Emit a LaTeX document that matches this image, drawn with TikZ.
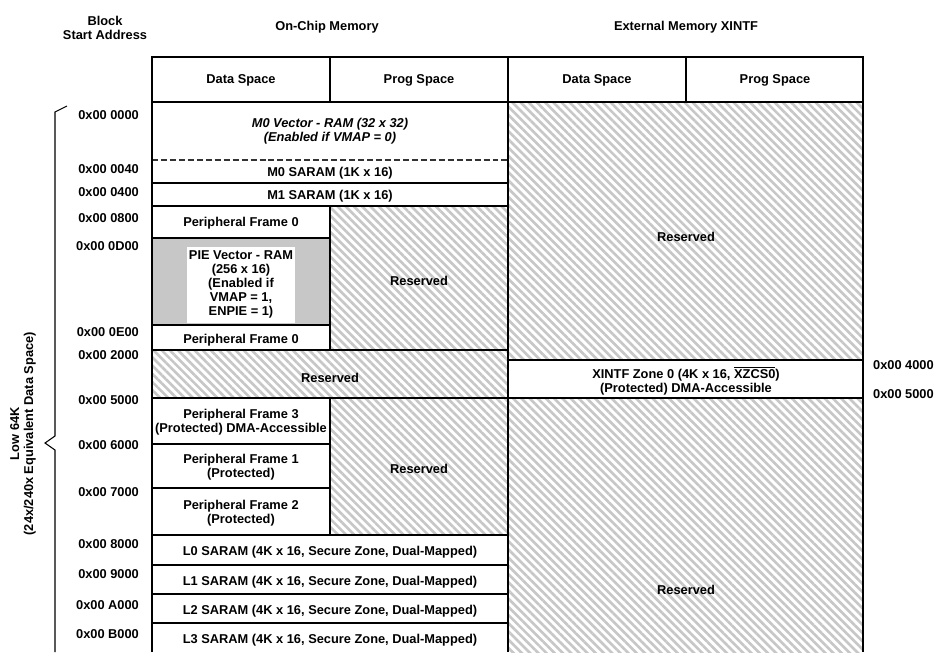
\documentclass[tikz,border=0pt]{standalone}
\usepackage{fontspec}
\setmainfont{Liberation Sans}
\usetikzlibrary{patterns.meta}

\tikzset{
  lbl/.style={font=\fontsize{7.3}{8}\selectfont\bfseries, align=center, inner sep=1pt, yshift=-1pt},
  addrlbl/.style={lbl, anchor=east},
  hatch/.style={pattern={Lines[angle=-45,distance=3.3pt,line width=1.5pt]}, pattern color=black!22},
  cellln/.style={line width=0.6pt},
}

\begin{document}
\begin{tikzpicture}[x=0.02cm,y=-0.02cm]
\useasboundingbox (0,0) rectangle (939,656);

% Titles
\node[lbl] (blkaddr) at (105,26) {Block\\Start Address};
\node[lbl] (onchip) at (327,25) {On-Chip Memory};
\node[lbl] (extmem) at (686,25) {External Memory XINTF};

% Reserved (hatched) regions
\fill[hatch] (330,206) rectangle (508,350);
\fill[hatch] (152,350) rectangle (508,398);
\fill[hatch] (330,398) rectangle (508,535);
\fill[hatch] (508,102) rectangle (863,360);
\fill[hatch] (508,398) rectangle (863,652);

% PIE vector block (grey)
\fill[black!22] (152,238) rectangle (330,325);

% Header row
\draw[cellln] (152,102) -- (863,102);
\foreach \x in {330,508,686} {
  \draw[cellln] (\x,57) -- (\x,102);
}
\foreach \x/\lab in {241/Data Space, 419/Prog Space, 597/Data Space, 775/Prog Space} {
  \node[lbl] (hd\x) at (\x,79) {\lab};
}

% On-chip rows
\draw[cellln, black!80, dash pattern=on 3.4pt off 1.7pt] (152,160) -- (508,160);
\draw[cellln] (152,183) -- (508,183);
\draw[cellln] (152,206) -- (508,206);
\draw[cellln] (152,238) -- (330,238);
\draw[cellln] (152,325) -- (330,325);
\draw[cellln] (152,350) -- (508,350);
\draw[cellln] (152,398) -- (863,398);
\draw[cellln] (152,444) -- (330,444);
\draw[cellln] (152,488) -- (330,488);
\draw[cellln] (152,535) -- (508,535);
\draw[cellln] (152,565) -- (508,565);
\draw[cellln] (152,594) -- (508,594);
\draw[cellln] (152,623) -- (508,623);
\draw[cellln] (330,206) -- (330,350);
\draw[cellln] (330,398) -- (330,535);
\draw[cellln] (508,102) -- (508,652);

% External rows
\draw[cellln] (508,360) -- (863,360);

% Outer frame
\draw[line width=1.2pt] (152,652) -- (152,57) -- (863,57) -- (863,652);

% Cell texts
\node[lbl, font=\fontsize{7.3}{8}\selectfont\bfseries\itshape] (m0vec) at (330,129) {M0 Vector - RAM (32 x 32)\\(Enabled if VMAP = 0)};
\node[lbl] (m0sa) at (330,171) {M0 SARAM (1K x 16)};
\node[lbl] (m1sa) at (330,194) {M1 SARAM (1K x 16)};
\node[lbl] (pf0a) at (241,221) {Peripheral Frame 0};
\node[lbl, fill=white, minimum width=106*0.02cm, minimum height=76*0.02cm] (pievec) at (241,283) {PIE Vector - RAM\\(256 x 16)\\(Enabled if\\VMAP = 1,\\ENPIE = 1)};
\node[lbl] (pf0b) at (241,338) {Peripheral Frame 0};
\node[lbl] (res1) at (419,279) {Reserved};
\node[lbl] (res2) at (330,376) {Reserved};
\node[lbl] (pf3) at (241,420) {Peripheral Frame 3\\(Protected) DMA-Accessible};
\node[lbl] (pf1) at (241,465) {Peripheral Frame 1\\(Protected)};
\node[lbl] (pf2) at (241,511) {Peripheral Frame 2\\(Protected)};
\node[lbl] (res3) at (419,467) {Reserved};
\foreach \y/\lab in {550/L0, 580/L1, 609/L2, 638/L3} {
  \node[lbl] (sa\lab) at (330,\y) {\lab\ SARAM (4K x 16, Secure Zone, Dual-Mapped)};
}
\node[lbl] (resx1) at (686,235) {Reserved};
\node[lbl] (xzone) at (686,379) {XINTF Zone 0 (4K x 16, \(\overline{\mbox{XZCS0}}\))\\(Protected) DMA-Accessible};
\node[lbl] (resx2) at (686,588) {Reserved};

% Start addresses
\foreach \y/\lab [count=\i] in {113/0x00 0000, 167/0x00 0040, 190/0x00 0400, 216/0x00 0800,
    244/0x00 0D00, 330/0x00 0E00, 353/0x00 2000, 398/0x00 5000, 443/0x00 6000,
    490/0x00 7000, 542/0x00 8000, 572/0x00 9000, 603/0x00 A000, 632/0x00 B000} {
  \node[addrlbl] (addr\i) at (141,\y) {\lab};
}
\node[lbl, anchor=west] (addrx1) at (871,363) {0x00 4000};
\node[lbl, anchor=west] (addrx2) at (871,392) {0x00 5000};

% Brace and side label
\draw[cellln] (67,106) -- (55,112) -- (55,436) -- (45,443) -- (55,450) -- (55,652);
\node[lbl, rotate=90] (low64k) at (23,432) {Low 64K\\(24x/240x Equivalent Data Space)};
\end{tikzpicture}
\end{document}
